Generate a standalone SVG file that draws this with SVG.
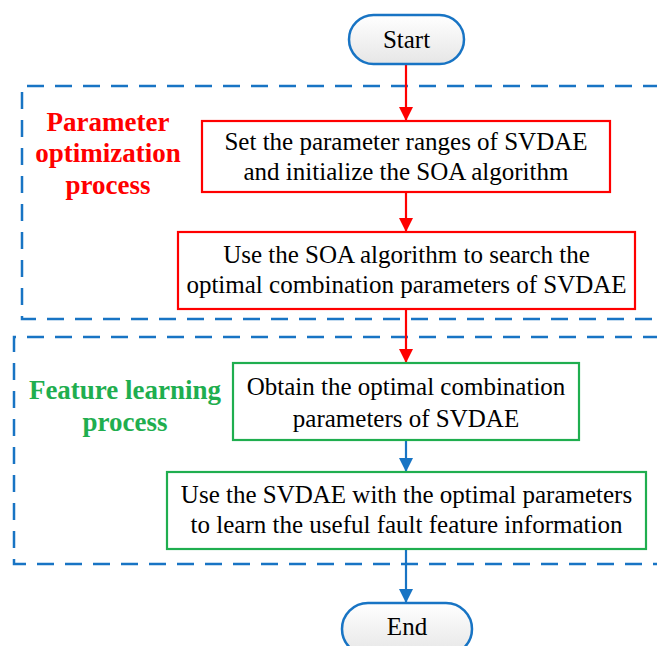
<svg xmlns="http://www.w3.org/2000/svg" width="657" height="646" viewBox="0 0 657 646">
<defs>
<linearGradient id="pill" x1="0" y1="0" x2="0" y2="1">
<stop offset="0" stop-color="#ffffff"/>
<stop offset="1" stop-color="#e6e6e6"/>
</linearGradient>
<marker id="arrR" markerWidth="14" markerHeight="14" viewBox="0 0 14 14" refX="14" refY="7" orient="auto" markerUnits="userSpaceOnUse">
<path d="M0,0 L14,7 L0,14 Z" fill="#ff0000"/>
</marker>
<marker id="arrB" markerWidth="14" markerHeight="14" viewBox="0 0 14 14" refX="14" refY="7" orient="auto" markerUnits="userSpaceOnUse">
<path d="M0,0 L14,7 L0,14 Z" fill="#1874c4"/>
</marker>
</defs>
<style>
.dash{fill:none;stroke:#1874c4;stroke-width:2.5;stroke-dasharray:17 11}
.pill{fill:url(#pill);stroke:#1874c4;stroke-width:2.5}
.rbox{fill:#ffffff;stroke:#ff0000;stroke-width:2.2}
.gbox{fill:#ffffff;stroke:#1fae4f;stroke-width:2.2}
.t{font-family:"Liberation Serif","Times New Roman",serif;font-size:25px;fill:#000;text-anchor:middle}
.lblR{font-family:"Liberation Serif","Times New Roman",serif;font-size:27px;font-weight:bold;fill:#ff0000;text-anchor:middle}
.lblG{font-family:"Liberation Serif","Times New Roman",serif;font-size:27px;font-weight:bold;fill:#1fae4f;text-anchor:middle}
.cr{stroke:#ff0000;stroke-width:2.2;fill:none}
.cb{stroke:#1874c4;stroke-width:2.2;fill:none}
</style>
<g id="group-param">
<path class="dash" d="M660,86 H22 V319 H660"/>
<text class="lblR" x="108" y="131">Parameter</text>
<text class="lblR" x="108" y="162">optimization</text>
<text class="lblR" x="108" y="194">process</text>
</g>
<g id="group-feature">
<path class="dash" d="M660,337 H14 V564 H660"/>
<text class="lblG" x="125" y="399">Feature learning</text>
<text class="lblG" x="125" y="431">process</text>
</g>
<g id="connectors">
<line class="cr" x1="406" y1="64" x2="406" y2="121" marker-end="url(#arrR)"/>
<line class="cr" x1="406" y1="192" x2="406" y2="232" marker-end="url(#arrR)"/>
<line class="cr" x1="406" y1="309" x2="406" y2="363" marker-end="url(#arrR)"/>
<line class="cb" x1="406" y1="440" x2="406" y2="472" marker-end="url(#arrB)"/>
<line class="cb" x1="406" y1="549" x2="406" y2="603" marker-end="url(#arrB)"/>
</g>
<g id="start">
<rect class="pill" x="349" y="15" width="115" height="49" rx="24.5"/>
<text class="t" x="406.5" y="48">Start</text>
</g>
<g id="box1">
<rect class="rbox" x="202" y="121" width="408" height="71"/>
<text class="t" x="406" y="150">Set the parameter ranges of SVDAE</text>
<text class="t" x="406" y="180">and initialize the SOA algorithm</text>
</g>
<g id="box2">
<rect class="rbox" x="178" y="232" width="457" height="77"/>
<text class="t" x="406.5" y="263">Use the SOA algorithm to search the</text>
<text class="t" x="406.5" y="293">optimal combination parameters of SVDAE</text>
</g>
<g id="box3">
<rect class="gbox" x="233" y="363" width="346" height="77"/>
<text class="t" x="406" y="395">Obtain the optimal combination</text>
<text class="t" x="406" y="427">parameters of SVDAE</text>
</g>
<g id="box4">
<rect class="gbox" x="167" y="472" width="479" height="77"/>
<text class="t" x="406.5" y="503">Use the SVDAE with the optimal parameters</text>
<text class="t" x="406.5" y="533">to learn the useful fault feature information</text>
</g>
<g id="end">
<rect class="pill" x="342" y="603" width="130" height="52" rx="26"/>
<text class="t" x="407" y="635">End</text>
</g>
</svg>
